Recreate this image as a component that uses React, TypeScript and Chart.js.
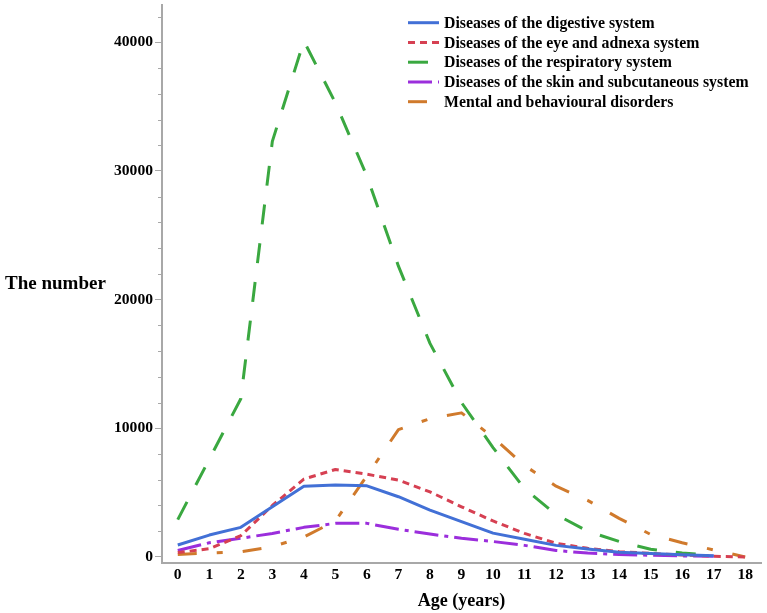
import React, { useEffect, useRef } from 'react';
import { Chart, registerables } from 'chart.js';

Chart.register(...registerables);

const ages = ['0', '1', '2', '3', '4', '5', '6', '7', '8', '9', '10', '11', '12', '13', '14', '15', '16', '17', '18'];
const digestive = [930, 1700, 2300, 3900, 5500, 5600, 5530, 4680, 3640, 2740, 1850, 1370, 900, 620, 360, 260, 180, 100, null];
const eye = [340, 640, 1650, 4000, 6050, 6800, 6430, 5970, 5060, 3900, 2800, 1830, 1060, 670, 410, 280, 150, 50, 0];
const respiratory = [2900, 7600, 12300, 32300, 40100, 35300, 29600, 22600, 16600, 12000, 8500, 5300, 3300, 2000, 1200, 600, 300, 150, null];
const skin = [500, 1100, 1450, 1830, 2300, 2610, 2610, 2150, 1780, 1450, 1200, 900, 500, 300, 200, 130, 80, 50, null];
const mental = [200, 300, 400, 800, 1550, 2800, 6300, 9900, 10750, 11200, 9300, 7100, 5500, 4400, 3000, 1750, 1100, 550, 0];
const seriesLabels = [
  'Diseases of the digestive system',
  'Diseases of the eye and adnexa system',
  'Diseases of the respiratory system',
  'Diseases of the skin and subcutaneous system',
  'Mental and behavioural disorders',
];
const yMajorTicks = [0, 10000, 20000, 30000, 40000];
const yMinorTicks = [2000, 4000, 6000, 8000, 12000, 14000, 16000, 18000, 22000, 24000, 26000, 28000, 32000, 34000, 36000, 38000, 42000];
const yTitle = 'The number';
const xTitle = 'Age (years)';

const SERIF = '"Liberation Serif", "Times New Roman", serif';
const AXIS_GRAY = '#a8a8a8';

const yTitlePlugin = {
  id: 'yTitleHorizontal',
  afterDraw(chart: any) {
    const { ctx, chartArea } = chart;
    ctx.save();
    ctx.font = `bold 19px ${SERIF}`;
    ctx.fillStyle = '#000';
    ctx.textAlign = 'left';
    ctx.textBaseline = 'middle';
    ctx.fillText(yTitle, 5, (chartArea.top + chartArea.bottom) / 2);
    ctx.restore();
  },
};

const minorTickPlugin = {
  id: 'minorTicks',
  afterDraw(chart: any) {
    const { ctx } = chart;
    const ys = chart.scales.y;
    ctx.save();
    ctx.strokeStyle = AXIS_GRAY;
    ctx.lineWidth = 1;
    yMinorTicks.forEach((v) => {
      const py = Math.round(ys.getPixelForValue(v)) + 0.5;
      ctx.beginPath();
      ctx.moveTo(ys.right - 4, py);
      ctx.lineTo(ys.right, py);
      ctx.stroke();
    });
    ctx.restore();
  },
};

const legendPlugin = {
  id: 'insideLegend',
  afterDraw(chart: any) {
    const { ctx } = chart;
    ctx.save();
    chart.data.datasets.forEach((ds: any, i: number) => {
      const y = 22.7 + i * 19.75;
      ctx.beginPath();
      ctx.setLineDash(ds.borderDash || []);
      ctx.lineWidth = 3;
      ctx.lineCap = 'butt';
      ctx.strokeStyle = ds.borderColor;
      ctx.moveTo(408, y);
      ctx.lineTo(439, y);
      ctx.stroke();
      ctx.setLineDash([]);
      ctx.fillStyle = '#000';
      ctx.font = `bold 15.8px ${SERIF}`;
      ctx.textAlign = 'left';
      ctx.textBaseline = 'middle';
      ctx.fillText(ds.label, 444, y + 1);
    });
    ctx.restore();
  },
};

export default function App() {
  const ref = useRef<HTMLCanvasElement | null>(null);

  useEffect(() => {
    if (!ref.current) return;
    const mk = (label: string, data: any[], color: string, dash: number[]) => ({
      label,
      data,
      borderColor: color,
      backgroundColor: color,
      borderWidth: 3,
      borderDash: dash,
      borderJoinStyle: 'round' as const,
      pointRadius: 0,
      pointHoverRadius: 0,
      tension: 0,
      fill: false,
    });
    const chart = new Chart(ref.current, {
      type: 'line',
      data: {
        labels: ages,
        datasets: [
          mk(seriesLabels[0], digestive, 'rgb(66,112,214)', []),
          mk(seriesLabels[1], eye, 'rgb(214,64,82)', [7, 5]),
          mk(seriesLabels[2], respiratory, 'rgb(58,168,64)', [20, 19]),
          mk(seriesLabels[3], skin, 'rgb(155,46,220)', [24, 6, 4, 6]),
          mk(seriesLabels[4], mental, 'rgb(208,122,44)', [19, 20, 6, 20]),
        ],
      },
      options: {
        responsive: false,
        animation: false,
        layout: { padding: { left: 0, right: 6, top: 5, bottom: 0 } },
        plugins: {
          legend: { display: false },
          tooltip: { enabled: false },
          title: { display: false },
        },
        scales: {
          x: {
            type: 'category',
            offset: true,
            grid: { display: false, drawTicks: false },
            border: { display: true, color: AXIS_GRAY, width: 2 },
            ticks: {
              color: '#000',
              font: { family: SERIF, size: 15.6, weight: 'bold' },
              padding: 3,
              maxRotation: 0,
              autoSkip: false,
            },
            title: {
              display: true,
              text: xTitle,
              color: '#000',
              font: { family: SERIF, size: 18, weight: 'bold' },
              padding: { top: 0, bottom: 1 },
            },
            afterFit(scale: any) {
              scale.height = 50;
              scale.paddingLeft = 0;
              scale.paddingRight = 0;
            },
          },
          y: {
            type: 'linear',
            min: -470,
            max: 42900,
            afterBuildTicks(scale: any) {
              scale.ticks = yMajorTicks.map((v) => ({ value: v }));
            },
            grid: {
              display: true,
              drawOnChartArea: false,
              drawTicks: true,
              tickLength: 7,
              color: AXIS_GRAY,
              lineWidth: 1,
            },
            border: { display: true, color: AXIS_GRAY, width: 2 },
            ticks: {
              color: '#000',
              font: { family: SERIF, size: 15.6, weight: 'bold' },
              padding: 2,
              callback: (v: any) => String(v),
            },
            afterFit(scale: any) {
              scale.width = 162;
              scale.paddingTop = 0;
              scale.paddingBottom = 0;
            },
          },
        },
      },
      plugins: [yTitlePlugin, minorTickPlugin, legendPlugin],
    });
    return () => chart.destroy();
  }, []);

  return (
    <div style={{ position: 'absolute', left: 0, top: 0, width: 767, height: 613, background: '#fff' }}>
      <canvas ref={ref} width={767} height={613} style={{ display: 'block' }} />
    </div>
  );
}
